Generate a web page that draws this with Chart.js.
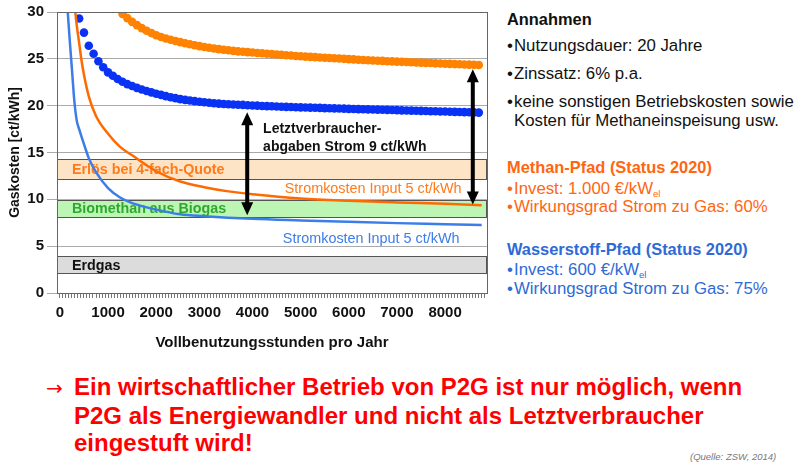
<!DOCTYPE html>
<html>
<head>
<meta charset="utf-8">
<script src="https://cdn.jsdelivr.net/npm/chart.js@4.4.0/dist/chart.umd.min.js"></script>
<style>
    html, body { margin: 0; padding: 0; background: #fff; }
    body { width: 800px; height: 472px; position: relative; overflow: hidden; font-family: "Liberation Sans", Arial, sans-serif; }
    #wrap { position: absolute; left: 0; top: 0; width: 500px; height: 362px; }
    .side { position: absolute; left: 507px; font-size: 16.8px; line-height: 18px; color: #111; white-space: nowrap; }
    .side b { font-weight: bold; font-size: 16.4px; }
    .bl { display: inline-block; width: 7px; }
    .ind { padding-left: 7px; }
    .orange { color: #ff6610; }
    .blue { color: #2f6ad6; }
    sub { font-size: 9.5px; vertical-align: -3px; }
    #fazit { position: absolute; left: 46px; top: 373px; color: #f00; font-family: "Liberation Sans Narrow", "Liberation Sans", Arial, sans-serif; font-weight: bold; font-size: 24px; line-height: 27px; white-space: nowrap; }
    #fazit .arr { font-family: "DejaVu Sans", sans-serif; font-weight: normal; font-size: 20px; display: inline-block; width: 28px; }
    #fazit .cont { padding-left: 28px; }
    #quelle { position: absolute; left: 690px; top: 451px; font-size: 9.5px; font-style: italic; color: #777; }
</style>
</head>
<body>
<div id="wrap"><canvas id="p2gChart"></canvas></div>

<div class="side" style="top:10px"><b>Annahmen</b></div>
<div class="side" style="top:37px"><span class="bl">•</span>Nutzungsdauer: 20 Jahre</div>
<div class="side" style="top:65px"><span class="bl">•</span>Zinssatz: 6% p.a.</div>
<div class="side" style="top:93px"><span class="bl">•</span>keine sonstigen Betriebskosten sowie</div>
<div class="side ind" style="top:112px">Kosten für Methaneinspeisung usw.</div>
<div class="side orange" style="top:158px"><b>Methan-Pfad (Status 2020)</b></div>
<div class="side orange" style="top:180px"><span class="bl">•</span>Invest: 1.000 €/kW<sub>el</sub></div>
<div class="side orange" style="top:198px"><span class="bl">•</span>Wirkungsgrad Strom zu Gas: 60%</div>
<div class="side blue" style="top:240px"><b>Wasserstoff-Pfad (Status 2020)</b></div>
<div class="side blue" style="top:261px"><span class="bl">•</span>Invest: 600 €/kW<sub>el</sub></div>
<div class="side blue" style="top:280px"><span class="bl">•</span>Wirkungsgrad Strom zu Gas: 75%</div>

<div id="fazit">
    <div><span class="arr">→</span>Ein wirtschaftlicher Betrieb von P2G ist nur möglich, wenn</div>
    <div class="cont">P2G als Energiewandler und nicht als Letztverbraucher</div>
    <div class="cont">eingestuft wird!</div>
</div>
<div id="quelle">(Quelle: ZSW, 2014)</div>

<script>
// Punktreihen: ein Wert je 100 Vollbenutzungsstunden
const dotStep = 100;

// Wasserstoff-Pfad inkl. Letztverbraucherabgaben (ab 400 h)
const blueDotStart = 400;
const blueDotValues = [
    29.3, 27.8, 26.4, 25.55, 24.75, 24.1, 23.55, 23.2, 22.85, 22.55,
    22.3, 22.1, 21.9, 21.72, 21.56, 21.42, 21.28, 21.15, 21.02, 20.9,
    20.8, 20.7, 20.62, 20.55, 20.48, 20.42, 20.36, 20.31, 20.26, 20.22,
    20.18, 20.15, 20.12, 20.1, 20.08, 20.05, 20.02, 20.0, 19.97, 19.95,
    19.93, 19.91, 19.89, 19.87, 19.85, 19.83, 19.82, 19.8, 19.79, 19.77,
    19.76, 19.74, 19.72, 19.71, 19.69, 19.68, 19.66, 19.65, 19.63, 19.62,
    19.6, 19.59, 19.58, 19.56, 19.55, 19.53, 19.52, 19.5, 19.49, 19.47,
    19.46, 19.44, 19.43, 19.41, 19.4, 19.38, 19.37, 19.35, 19.34, 19.32,
    19.31, 19.29, 19.28, 19.26
];

// Methan-Pfad inkl. Letztverbraucherabgaben (ab 1300 h)
const orangeDotStart = 1300;
const orangeDotValues = [
    29.8, 29.35, 28.95, 28.6, 28.28, 28.0, 27.75, 27.52, 27.33, 27.17,
    27.03, 26.9, 26.78, 26.66, 26.55, 26.45, 26.36, 26.27, 26.19, 26.11,
    26.04, 25.97, 25.91, 25.85, 25.8, 25.76, 25.72, 25.68, 25.63, 25.59,
    25.55, 25.51, 25.47, 25.43, 25.39, 25.35, 25.31, 25.28, 25.24, 25.21,
    25.18, 25.15, 25.12, 25.09, 25.06, 25.03, 25.0, 24.97, 24.94, 24.91,
    24.88, 24.85, 24.83, 24.8, 24.78, 24.75, 24.73, 24.7, 24.68, 24.66,
    24.63, 24.61, 24.59, 24.57, 24.55, 24.52, 24.5, 24.48, 24.46, 24.44,
    24.42, 24.4, 24.38, 24.36, 24.34
];

// Stromkosten Input 5 ct/kWh (ohne Abgaben)
const orangeLineHours = [300, 350, 400, 450, 500, 600, 750, 1000, 1250, 1500, 2000, 2500, 3000, 3500, 4000, 5000, 6000, 7000, 8000, 8760];
const orangeLineValues = [31.0, 28.6, 26.7, 24.8, 23.3, 21.0, 18.9, 17.0, 15.6, 14.7, 13.0, 11.9, 11.3, 10.85, 10.55, 10.1, 9.85, 9.67, 9.52, 9.38];

const blueLineHours = [150, 200, 250, 300, 350, 400, 500, 600, 750, 1000, 1250, 1500, 2000, 2500, 3000, 4000, 5000, 6000, 7000, 8000, 8760];
const blueLineValues = [31.0, 27.3, 23.9, 20.5, 18.4, 17.5, 15.9, 14.4, 12.9, 11.2, 10.2, 9.6, 8.9, 8.4, 8.2, 7.92, 7.75, 7.6, 7.46, 7.35, 7.26];

// Vergleichsbänder (ct/kWh)
const bandNames = ['Erlös bei 4-fach-Quote', 'Biomethan aus Biogas', 'Erdgas'];
const bandLow = [12.15, 8.1, 2.05];
const bandHigh = [14.3, 9.95, 3.9];
const bandFill = ['#fde4c6', '#bdf5b4', '#dcdcdc'];
const bandText = ['#ff7a1a', '#2ea82e', '#111'];

// Pfeile: Letztverbraucherabgaben Strom 9 ct/kWh
const arrowHours = [3890, 8575];
const arrowTop = [19.3, 23.9];
const arrowBottom = [8.3, 9.45];

const yTicks = [0, 5, 10, 15, 20, 25, 30];
const xLabelStep = 1000;
const xMinorStep = 62.5;
const xMax = 8870;

function stepPoints(start, values) {
    return values.map((v, i) => ({ x: start + i * dotStep, y: v }));
}
function pairPoints(hours, values) {
    return hours.map((h, i) => ({ x: h, y: values[i] }));
}

const FONT = '"Liberation Sans", Arial, sans-serif';

function drawArrow(ctx, x, yTop, yBottom) {
    const head = 13, half = 6;
    ctx.save();
    ctx.strokeStyle = '#000';
    ctx.fillStyle = '#000';
    ctx.lineWidth = 4;
    ctx.beginPath();
    ctx.moveTo(x, yTop + head - 1);
    ctx.lineTo(x, yBottom - head + 1);
    ctx.stroke();
    ctx.beginPath();
    ctx.moveTo(x, yTop);
    ctx.lineTo(x - half, yTop + head);
    ctx.lineTo(x + half, yTop + head);
    ctx.closePath();
    ctx.fill();
    ctx.beginPath();
    ctx.moveTo(x, yBottom);
    ctx.lineTo(x - half, yBottom - head);
    ctx.lineTo(x + half, yBottom - head);
    ctx.closePath();
    ctx.fill();
    ctx.restore();
}

// Bänder, Pfeile und Beschriftungen im Diagramm
const overlayPlugin = {
    id: 'overlay',
    beforeDatasetsDraw(chart) {
        const { ctx, chartArea, scales } = chart;
        ctx.save();
        bandNames.forEach((name, i) => {
            const yT = scales.y.getPixelForValue(bandHigh[i]);
            const yB = scales.y.getPixelForValue(bandLow[i]);
            ctx.fillStyle = bandFill[i];
            ctx.fillRect(chartArea.left, yT, chartArea.right - chartArea.left, yB - yT);
            ctx.strokeStyle = '#555';
            ctx.lineWidth = 1;
            ctx.strokeRect(chartArea.left + 0.5, Math.round(yT) + 0.5, chartArea.right - chartArea.left - 1, Math.round(yB - yT));
            ctx.fillStyle = bandText[i];
            ctx.font = 'bold 14.3px ' + FONT;
            ctx.textBaseline = 'middle';
            ctx.fillText(name, chartArea.left + 15, (yT + yB) / 2 + 1);
        });
        ctx.restore();
    },
    afterDatasetsDraw(chart) {
        const { ctx, chartArea, scales } = chart;
        ctx.save();
        ctx.textBaseline = 'middle';
        ctx.font = 'bold 14px ' + FONT;
        ctx.fillStyle = '#111';
        const lx = scales.x.getPixelForValue(4220);
        ctx.fillText('Letztverbraucher-', lx, scales.y.getPixelForValue(17.45));
        ctx.fillText('abgaben Strom 9 ct/kWh', lx, scales.y.getPixelForValue(15.55));
        ctx.font = '14.4px ' + FONT;
        ctx.fillStyle = '#ff7a1a';
        ctx.fillText('Stromkosten Input 5 ct/kWh', scales.x.getPixelForValue(4670), scales.y.getPixelForValue(11.1));
        ctx.fillStyle = '#3c7de8';
        ctx.fillText('Stromkosten Input 5 ct/kWh', scales.x.getPixelForValue(4630), scales.y.getPixelForValue(5.78));
        arrowHours.forEach((h, i) => {
            drawArrow(ctx, scales.x.getPixelForValue(h), scales.y.getPixelForValue(arrowTop[i]), scales.y.getPixelForValue(arrowBottom[i]));
        });
        ctx.strokeStyle = '#666';
        ctx.lineWidth = 1;
        ctx.strokeRect(Math.round(chartArea.left) + 0.5, Math.round(chartArea.top) + 0.5,
            Math.round(chartArea.right - chartArea.left), Math.round(chartArea.bottom - chartArea.top));
        ctx.restore();
    }
};

const ctx = document.getElementById('p2gChart').getContext('2d');
new Chart(ctx, {
    type: 'scatter',
    data: {
        datasets: [
            {
                label: 'Wasserstoff Stromkosten 5 ct/kWh',
                data: pairPoints(blueLineHours, blueLineValues),
                showLine: true,
                borderColor: '#3c7de8',
                borderWidth: 2.5,
                pointRadius: 0,
                cubicInterpolationMode: 'monotone'
            },
            {
                label: 'Methan Stromkosten 5 ct/kWh',
                data: pairPoints(orangeLineHours, orangeLineValues),
                showLine: true,
                borderColor: '#ff6a00',
                borderWidth: 2.5,
                pointRadius: 0,
                cubicInterpolationMode: 'monotone'
            },
            {
                label: 'Wasserstoff inkl. Abgaben',
                data: stepPoints(blueDotStart, blueDotValues),
                showLine: false,
                pointRadius: 4.3,
                pointBorderWidth: 0,
                pointBackgroundColor: '#0a32f5'
            },
            {
                label: 'Methan inkl. Abgaben',
                data: stepPoints(orangeDotStart, orangeDotValues),
                showLine: false,
                pointRadius: 4.3,
                pointBorderWidth: 0,
                pointBackgroundColor: '#ff8200'
            }
        ]
    },
    options: {
        responsive: true,
        maintainAspectRatio: false,
        animation: false,
        layout: { padding: { top: 12, right: 13, left: 0, bottom: 0 } },
        plugins: {
            legend: { display: false },
            tooltip: { enabled: false }
        },
        scales: {
            x: {
                type: 'linear',
                min: -60,
                max: xMax,
                afterFit: s => { s.height = 69; },
                afterBuildTicks: s => {
                    const list = [];
                    for (let v = 0; v <= xMax; v += xMinorStep) list.push({ value: v });
                    s.ticks = list;
                },
                ticks: {
                    autoSkip: false,
                    maxRotation: 0,
                    padding: 6,
                    color: '#111',
                    font: { family: FONT, size: 15, weight: 'bold' },
                    callback: v => (v % xLabelStep === 0) ? String(v) : ''
                },
                grid: { drawOnChartArea: false, drawTicks: true, tickLength: 5, color: '#777' },
                border: { display: false },
                title: {
                    display: true,
                    text: 'Vollbenutzungsstunden pro Jahr',
                    color: '#111',
                    font: { family: FONT, size: 15, weight: 'bold' },
                    padding: { top: 0, bottom: 10 }
                }
            },
            y: {
                min: 0,
                max: 30,
                afterFit: s => { s.width = 57; },
                afterBuildTicks: s => { s.ticks = yTicks.map(v => ({ value: v })); },
                ticks: {
                    padding: 3,
                    color: '#111',
                    font: { family: FONT, size: 15, weight: 'bold' }
                },
                grid: { color: '#aaa', tickLength: 10, lineWidth: 1 },
                border: { display: false },
                title: {
                    display: true,
                    text: 'Gaskosten [ct/kWh]',
                    color: '#111',
                    font: { family: FONT, size: 14, weight: 'bold' },
                    padding: { top: 7, bottom: 0 }
                }
            }
        }
    },
    plugins: [overlayPlugin]
});
</script>
</body>
</html>
